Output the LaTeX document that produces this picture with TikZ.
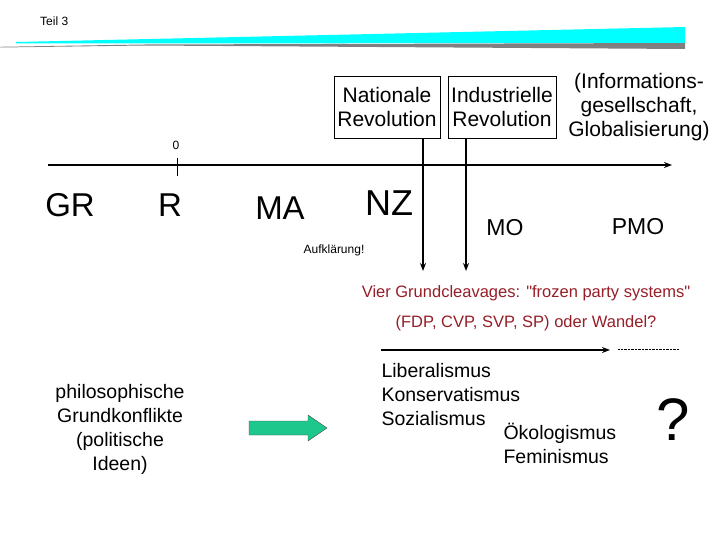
\documentclass[tikz,border=0pt]{standalone}
\usepackage{fontspec}
\setmainfont{Liberation Sans}
\usetikzlibrary{arrows.meta}
\definecolor{redtxt}{RGB}{150,30,40}
\definecolor{greenarr}{RGB}{30,200,140}
\definecolor{cyn}{RGB}{0,255,255}
\tikzset{
  lbl/.style={inner sep=0pt,anchor=base},
  bx/.style={draw,thin,align=center,inner sep=3pt,font=\fontsize{21}{24}\selectfont},
  arr/.style={line width=1.6pt,-{Stealth[length=8pt,width=6pt]}},
}
\begin{document}
\begin{tikzpicture}[x=1pt,y=-1pt]
\useasboundingbox (0,0) rectangle (720,540);
\node[lbl,anchor=base west,font=\fontsize{12}{13}\selectfont] (teil) at (40,26) {Teil 3};
\fill[cyn] (16,42) -- (685,27) -- (685,43) -- (16,43.5) -- cycle;
\fill[gray] (0,47.5) -- (0,46.8) -- (145,44.5) -- (685,43) -- (685,49) -- (145,45.5) -- cycle;
% timeline
\coordinate (t0) at (48,165);
\coordinate (t1) at (672,165);
\draw[arr] (t0) -- (t1);
\coordinate (tk1) at (177,158);
\coordinate (tk2) at (177,176);
\draw[thin] (tk1) -- (tk2);
\node[font=\fontsize{12}{13}\selectfont] (zero) at (176,145) {0};
\node[lbl,font=\fontsize{33}{35}\selectfont] (gr) at (70,217) {GR};
\node[lbl,font=\fontsize{33}{35}\selectfont] (r) at (170,217) {R};
\node[lbl,font=\fontsize{33}{35}\selectfont] (ma) at (280,219) {MA};
\node[lbl,font=\fontsize{36}{38}\selectfont] (nz) at (389,215) {NZ};
\node[lbl,font=\fontsize{23}{25}\selectfont] (mo) at (505,236) {MO};
\node[lbl,font=\fontsize{23}{25}\selectfont] (pmo) at (638,234) {PMO};
\node[lbl,font=\fontsize{12}{13}\selectfont] (auf) at (334,253) {Aufklärung!};
\node[bx,minimum width=106pt,minimum height=62pt] (nat) at (387,107) {Nationale\\Revolution};
\node[bx,minimum width=108pt,minimum height=62pt] (ind) at (502,107) {Industrielle\\Revolution};
\node[align=center,font=\fontsize{21}{24}\selectfont] (info) at (639,107) {(Informations-\\gesellschaft,\\Globalisierung)};
\coordinate (e1) at (423,271);
\coordinate (e2) at (466,271);
\draw[arr] (nat.south -| e1) -- (e1);
\draw[arr] (ind.south -| e2) -- (e2);
\node[font=\fontsize{16.5}{18}\selectfont,text=redtxt] (vier) at (526,293) {Vier Grundcleavages: \textquotedbl frozen party systems\textquotedbl};
\node[font=\fontsize{16.5}{18}\selectfont,text=redtxt] (fdp) at (526,323) {(FDP, CVP, SVP, SP) oder Wandel?};
\coordinate (b0) at (381,350);
\coordinate (b1) at (610,350);
\draw[arr] (b0) -- (b1);
\coordinate (d0) at (618,349);
\coordinate (d1) at (679,349);
\draw[densely dotted,thin] (d0) -- (d1);
\node[align=center,font=\fontsize{19.5}{24}\selectfont] (phil) at (120,429) {philosophische\\Grundkonflikte\\(politische\\Ideen)};
\filldraw[fill=greenarr,draw=black!70,thin] (249,421) -- (308,421) -- (308,415) -- (327,428) -- (308,441) -- (308,435) -- (249,435) -- cycle;
\node[align=left,anchor=north west,font=\fontsize{19.5}{24}\selectfont] (lib) at (378,360) {Liberalismus\\Konservatismus\\Sozialismus};
\node[align=left,anchor=north west,font=\fontsize{19.5}{24}\selectfont] (oek) at (500,420) {Ökologismus\\Feminismus};
\node[font=\fontsize{60}{64}\selectfont] (q) at (673,420) {?};
\end{tikzpicture}
\end{document}
